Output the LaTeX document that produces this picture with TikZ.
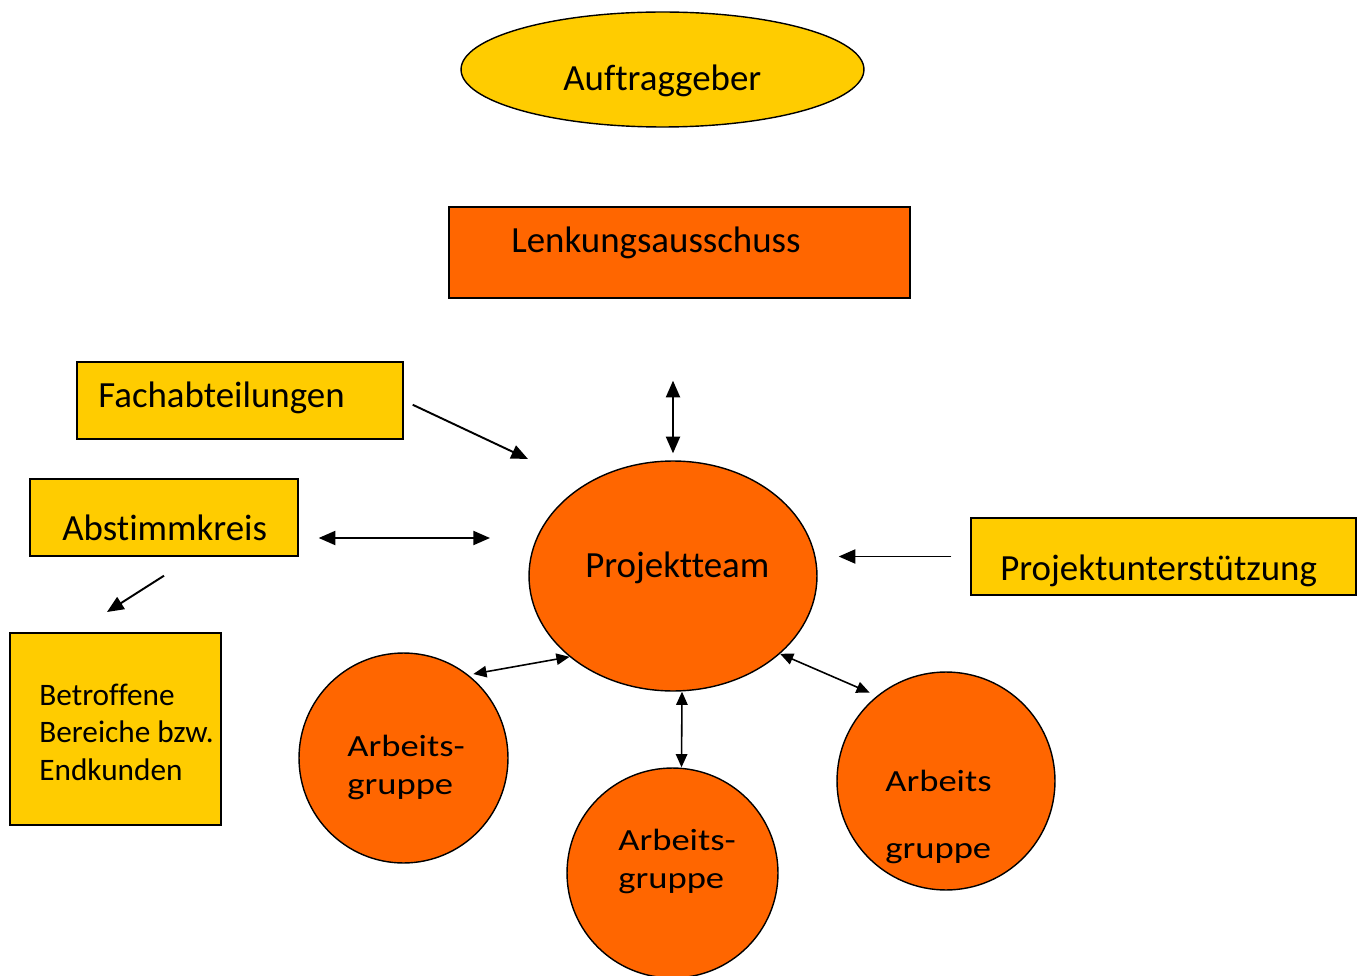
\documentclass[tikz,border=0pt]{standalone}
\usepackage{fontspec}
\setmainfont{Carlito}[Ligatures={NoCommon}]
\usepackage{graphicx}
\usetikzlibrary{arrows.meta, shapes.geometric}

\definecolor{gelb}{HTML}{FFCC00}
\definecolor{orangerot}{HTML}{FF6600}

\begin{document}
\begin{tikzpicture}[
		x=0.02cm, y=-0.02cm,
		box/.style={draw, line width=0.8pt, inner sep=0},
		gelbbox/.style={box, rectangle, fill=gelb},
		rotbox/.style={box, rectangle, fill=orangerot},
		oval/.style={box, ellipse, fill=orangerot},
		txt/.style={inner sep=0, anchor=base west, font=\fontsize{21}{24}\selectfont},
		kleintxt/.style={inner sep=0, anchor=base west, font=\fontsize{17.8}{21.5}\selectfont},
		agtxt/.style={inner sep=0, anchor=base west, font=\fontsize{17.5}{22}\selectfont},
		pfeil/.style={-{Triangle[length=9.5pt, width=8pt]}, line width=1.1pt},
		doppel/.style={{Triangle[length=9.5pt, width=8pt]}-{Triangle[length=9.5pt, width=8pt]}, line width=1.1pt},
		kdoppel/.style={{Triangle[length=7.5pt, width=6.5pt]}-{Triangle[length=7.5pt, width=6.5pt]}, line width=0.9pt}
		]
		
		\clip (0,0) rectangle (1362,976);
		
		% Auftraggeber und Lenkungsausschuss
		\node[oval, fill=gelb, minimum width=8.06cm, minimum height=2.3cm] (auftr) at (662.5,69.5) {};
		\node[txt] (auftr-t) at (563,91) {Auftraggeber};
		\node[rotbox, minimum width=9.22cm, minimum height=1.82cm] (lenk) at (679.5,252.5) {};
		\node[txt] (lenk-t) at (511,253) {Lenkungsausschuss};
		
		% linke Seite
		\node[gelbbox, minimum width=6.52cm, minimum height=1.54cm] (fach) at (240,400.5) {};
		\node[txt] (fach-t) at (98,407) {Fachabteilungen};
		\node[gelbbox, minimum width=5.36cm, minimum height=1.54cm] (abst) at (164,517.5) {};
		\node[txt] (abst-t) at (62,540) {Abstimmkreis};
		\node[gelbbox, minimum width=4.22cm, minimum height=3.84cm] (betr) at (115.5,729) {};
		\node[kleintxt] (betr-t) at (39,705) {\begin{tabular}[t]{@{}l@{}}Betroffene\\Bereiche bzw.\\Endkunden\end{tabular}};
		
		% rechte Seite
		\node[gelbbox, minimum width=7.7cm, minimum height=1.54cm] (unterst) at (1163.5,556.5) {};
		\node[txt] (unterst-t) at (1000,580) {Projektunterstützung};
		
		% Projektteam
		\node[oval, minimum width=5.76cm, minimum height=4.6cm] (team) at (673,576) {};
		\node[txt] (team-t) at (585,577) {Projektteam};
		
		% Arbeitsgruppen
		\node[oval, minimum width=4.18cm, minimum height=4.2cm] (agl) at (403.5,758) {};
		\node[agtxt] (agl-t) at (347,756) {\scalebox{1.19}[1]{\begin{tabular}[t]{@{}l@{}}Arbeits-\\gruppe\end{tabular}}};
		\node[oval, minimum width=4.22cm, minimum height=4.2cm] (agm) at (672.5,873) {};
		\node[agtxt] (agm-t) at (618,850) {\scalebox{1.19}[1]{\begin{tabular}[t]{@{}l@{}}Arbeits-\\gruppe\end{tabular}}};
		\node[oval, minimum width=4.36cm, minimum height=4.36cm] (agr) at (946,781) {};
		\node[agtxt] (agr-t) at (885,791) {\scalebox{1.19}[1]{\begin{tabular}[t]{@{}l@{}}Arbeits\\[16.5pt]gruppe\end{tabular}}};
		
		% Pfeile
		\coordinate (fach-spitze) at (528,459);
		\coordinate (abst-spitze) at (490,538);
		\coordinate (betr-spitze) at (107,612);
		\draw[doppel, shorten <=1.64cm, shorten >=0.14cm] (lenk.south -| team.north) -- (team.north);
		\draw[pfeil, shorten <=0.2cm] (fach.east) -- (fach-spitze);
		\draw[doppel, shorten <=0.4cm] ([yshift=-0.41cm]abst.east) -- (abst-spitze);
		\draw[pfeil] ([yshift=-0.38cm]abst.south) -- (betr-spitze);
		\draw[pfeil, shorten <=0.38cm, shorten >=0.42cm] (unterst.west) -- (unterst.west -| team.east);
		\draw[kdoppel, shorten <=0.1cm] (agl.52) -- (team.-142);
		\draw[kdoppel] ([xshift=0.18cm]team.south) -- ([xshift=0.18cm]agm.north);
		\draw[kdoppel, shorten >=0.16cm] (team.-36) -- (agr.129);
		
	\end{tikzpicture}
\end{document}
